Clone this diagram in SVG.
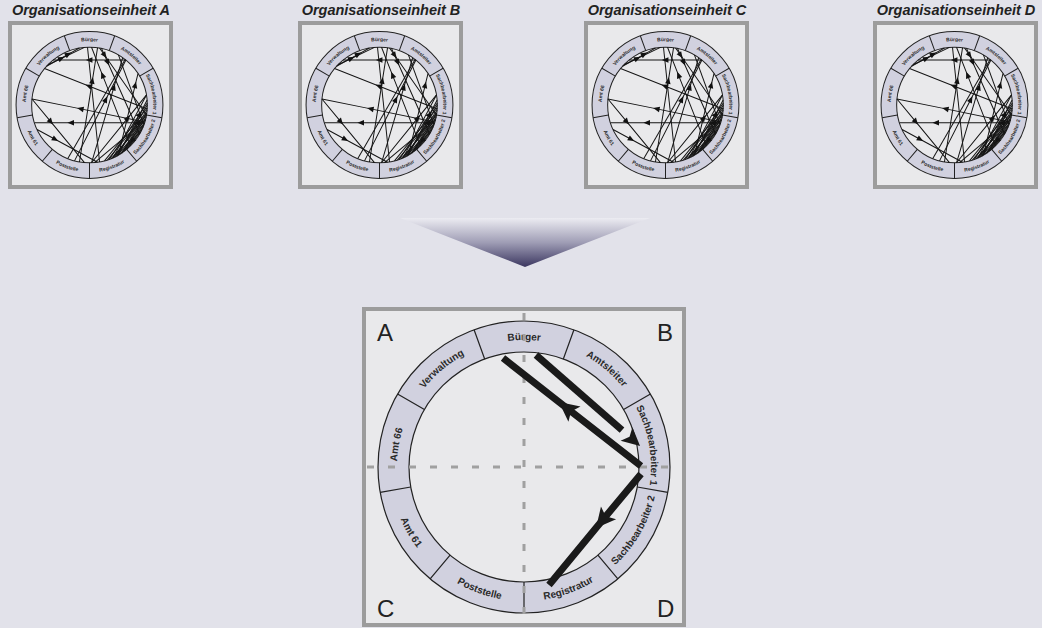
<svg xmlns="http://www.w3.org/2000/svg" xmlns:xlink="http://www.w3.org/1999/xlink" width="1042" height="628" viewBox="0 0 1042 628">
<style>
.lbl{font-family:"Liberation Sans",Arial,sans-serif;font-weight:bold;font-size:10px;fill:#2a2a2a}
.title{font-family:"Liberation Sans",Arial,sans-serif;font-weight:bold;font-style:italic;font-size:14.5px;fill:#222}
.corner{font-family:"Liberation Sans",Arial,sans-serif;font-size:24px;fill:#222}
.frame{fill:#e9e9eb;stroke:#9c9c9c;stroke-width:4}
.dash{stroke:#a0a0a0;stroke-width:3;stroke-dasharray:7 14;fill:none}
.big{stroke:#1a1a1a;stroke-width:7;fill:none}
.thin{stroke:#151515;stroke-width:2;fill:none}
</style>
<defs>
<linearGradient id="fun" x1="0" y1="0" x2="0" y2="1">
<stop offset="0" stop-color="#ececf2"/>
<stop offset="0.5" stop-color="#9f9db5"/>
<stop offset="1" stop-color="#3b3660"/>
</linearGradient>
<marker id="ahBig" markerUnits="userSpaceOnUse" markerWidth="24" markerHeight="24" viewBox="-20 -10 22 20" refX="0" refY="0" orient="auto">
<path d="M0,0 L-18,-9 L-14,0 L-18,9 Z" fill="#1a1a1a"/>
</marker>
<marker id="ahEnd" markerUnits="userSpaceOnUse" markerWidth="34" markerHeight="24" viewBox="-20 -10 34 20" refX="-12" refY="0" orient="auto">
<path d="M12,0 L-6,-9 L-2,0 L-6,9 Z" fill="#1a1a1a"/>
</marker>
<marker id="ahSm" markerUnits="userSpaceOnUse" markerWidth="16" markerHeight="14" viewBox="-14 -7 16 14" refX="0" refY="0" orient="auto">
<path d="M0,0 L-13,-5.5 L-13,5.5 Z" fill="#111"/>
</marker>
<path id="arcCW" d="M-119.34,43.44 A127,127 0 0 1 119.34,-43.44 A127,127 0 0 1 -119.34,43.44" fill="none"/>
<path id="arcCCW" d="M-134,0 A134,134 0 0 0 134,0" fill="none"/>
<g id="ringShape">
<circle r="146" fill="#d1d1df" stroke="#222"/>
<circle r="115" fill="#e9e9eb" stroke="#222"/>
<path stroke="#222" fill="none" d="M-39.33,-108.06L-49.93,-137.19M39.33,-108.06L49.93,-137.19M99.59,-57.5L126.44,-73M113.25,19.97L143.78,25.35M73.92,88.10L93.85,111.84M0,115L0,146M-73.92,88.10L-93.85,111.84M-113.25,19.97L-143.78,25.35M-99.59,-57.5L-126.44,-73"/>
</g>
<g id="thumbLines" class="thin">
<polyline points="72.4,-89.4 -7.2,-89.4 -72.4,-89.4" marker-mid="url(#ahSm)"/>
<polyline points="-85.5,-77 -36.4,-104.2 -20,-113.3" marker-mid="url(#ahSm)"/>
<polyline points="-82.7,-79.9 -50,-95.5 -10,-114.6" marker-mid="url(#ahSm)"/>
<polyline points="114.7,8 -7.8,-40.2 -89.4,-72.4" marker-mid="url(#ahSm)"/>
<polyline points="110,33.6 -24.6,6.2 -114.4,-12" marker-mid="url(#ahSm)"/>
<polyline points="-114.4,-12 -72.6,38.6 -10,114.6" marker-mid="url(#ahSm)"/>
<polyline points="109.4,35.5 -43.8,35.5 -109.4,35.5" marker-mid="url(#ahSm)"/>
<polyline points="-104.2,48.6 -62.1,71.5 16,113.9" marker-mid="url(#ahSm)"/>
<polyline points="-20,113.3 6.7,-55 16,-113.9" marker-mid="url(#ahSm)"/>
<line x1="-4" y1="-114.9" x2="20" y2="113.3"/>
<polyline points="81.3,81.3 23.3,-65.9 4,-114.9" marker-mid="url(#ahSm)"/>
<polyline points="-29.8,111.1 35.6,-17.2 72.4,-89.4" marker-mid="url(#ahSm)"/>
<polyline points="4,114.9 50.5,-41.9 66,-94.2" marker-mid="url(#ahSm)"/>
<polyline points="57.5,99.6 92.5,-46.4 96.4,-62.6" marker-mid="url(#ahSm)"/>
<polyline points="20,-113.3 34,-93.3 113.3,20" marker-mid="url(#ahSm)"/>
<polyline points="23.9,-112.5 39,-78.5 99.6,57.5" marker-mid="url(#ahSm)"/>
<line x1="57.5" y1="-99.6" x2="108.1" y2="39.3"/>
<line x1="70.8" y1="-90.6" x2="-43.1" y2="106.6"/>
<line x1="57.5" y1="99.6" x2="114.6" y2="-10"/>
<line x1="54" y1="101.5" x2="115" y2="0"/>
<polyline points="50.4,103.4 101.8,28.7 114.6,10" marker-mid="url(#ahSm)"/>
<line x1="46.8" y1="105.1" x2="113.3" y2="20"/>
<line x1="43.1" y1="106.6" x2="111.1" y2="29.8"/>
<line x1="60.9" y1="97.5" x2="108.1" y2="39.3"/>
<polyline points="104.2,48.6 80.3,76.6 64.3,95.3" marker-mid="url(#ahSm)"/>
<line x1="67.6" y1="93" x2="112.5" y2="23.9"/>
<polyline points="39.3,108.1 103.6,12.8 114.9,-4" marker-mid="url(#ahSm)"/>
<line x1="35.5" y1="109.4" x2="113.9" y2="16"/>
<line x1="73.9" y1="88.1" x2="101.5" y2="54"/>
<line x1="70.8" y1="90.6" x2="106.6" y2="43.1"/>
<line x1="29.8" y1="111.1" x2="114.8" y2="6"/>
<line x1="46.8" y1="105.1" x2="113.3" y2="-20"/>
<line x1="54" y1="101.5" x2="109.4" y2="35.5"/>
<line x1="64.3" y1="95.3" x2="113.9" y2="16"/>
<polyline points="4,114.9 80.5,20.5 113.3,-20" marker-mid="url(#ahSm)"/>
<line x1="10" y1="114.6" x2="111.1" y2="29.8"/>
</g>
</defs>
<rect width="1042" height="628" fill="#e2e2ea"/>

<g id="thumbA">
<text class="title" x="91" y="15" text-anchor="middle">Organisationseinheit A</text>
<rect class="frame" x="10" y="23" width="161" height="164"/>
<g transform="translate(89.5,105) scale(0.503)">
<use href="#ringShape" stroke-width="2"/>
<text class="lbl" text-anchor="middle"><textPath href="#arcCW" startOffset="66.5">Amt 66</textPath></text>
<text class="lbl" text-anchor="middle"><textPath href="#arcCW" startOffset="155.16">Verwaltung</textPath></text>
<text class="lbl" text-anchor="middle"><textPath href="#arcCW" startOffset="243.82">Bürger</textPath></text>
<text class="lbl" text-anchor="middle"><textPath href="#arcCW" startOffset="332.48">Amtsleiter</textPath></text>
<text class="lbl" text-anchor="middle"><textPath href="#arcCW" startOffset="421.14">Sachbearbeiter 1</textPath></text>
<text class="lbl" text-anchor="middle"><textPath href="#arcCCW" startOffset="70.16">Amt 61</textPath></text>
<text class="lbl" text-anchor="middle"><textPath href="#arcCCW" startOffset="163.71">Poststelle</textPath></text>
<text class="lbl" text-anchor="middle"><textPath href="#arcCCW" startOffset="257.26">Registratur</textPath></text>
<text class="lbl" text-anchor="middle"><textPath href="#arcCCW" startOffset="350.81">Sachbearbeiter 2</textPath></text>
<use href="#thumbLines"/>
</g>
</g>

<g id="thumbB" transform="translate(290,0)">
<text class="title" x="91" y="15" text-anchor="middle">Organisationseinheit B</text>
<rect class="frame" x="10" y="23" width="161" height="164"/>
<g transform="translate(89.5,105) scale(0.503)">
<use href="#ringShape" stroke-width="2"/>
<text class="lbl" text-anchor="middle"><textPath href="#arcCW" startOffset="66.5">Amt 66</textPath></text>
<text class="lbl" text-anchor="middle"><textPath href="#arcCW" startOffset="155.16">Verwaltung</textPath></text>
<text class="lbl" text-anchor="middle"><textPath href="#arcCW" startOffset="243.82">Bürger</textPath></text>
<text class="lbl" text-anchor="middle"><textPath href="#arcCW" startOffset="332.48">Amtsleiter</textPath></text>
<text class="lbl" text-anchor="middle"><textPath href="#arcCW" startOffset="421.14">Sachbearbeiter 1</textPath></text>
<text class="lbl" text-anchor="middle"><textPath href="#arcCCW" startOffset="70.16">Amt 61</textPath></text>
<text class="lbl" text-anchor="middle"><textPath href="#arcCCW" startOffset="163.71">Poststelle</textPath></text>
<text class="lbl" text-anchor="middle"><textPath href="#arcCCW" startOffset="257.26">Registratur</textPath></text>
<text class="lbl" text-anchor="middle"><textPath href="#arcCCW" startOffset="350.81">Sachbearbeiter 2</textPath></text>
<use href="#thumbLines"/>
</g>
</g>

<g id="thumbC" transform="translate(576,0)">
<text class="title" x="91" y="15" text-anchor="middle">Organisationseinheit C</text>
<rect class="frame" x="10" y="23" width="161" height="164"/>
<g transform="translate(89.5,105) scale(0.503)">
<use href="#ringShape" stroke-width="2"/>
<text class="lbl" text-anchor="middle"><textPath href="#arcCW" startOffset="66.5">Amt 66</textPath></text>
<text class="lbl" text-anchor="middle"><textPath href="#arcCW" startOffset="155.16">Verwaltung</textPath></text>
<text class="lbl" text-anchor="middle"><textPath href="#arcCW" startOffset="243.82">Bürger</textPath></text>
<text class="lbl" text-anchor="middle"><textPath href="#arcCW" startOffset="332.48">Amtsleiter</textPath></text>
<text class="lbl" text-anchor="middle"><textPath href="#arcCW" startOffset="421.14">Sachbearbeiter 1</textPath></text>
<text class="lbl" text-anchor="middle"><textPath href="#arcCCW" startOffset="70.16">Amt 61</textPath></text>
<text class="lbl" text-anchor="middle"><textPath href="#arcCCW" startOffset="163.71">Poststelle</textPath></text>
<text class="lbl" text-anchor="middle"><textPath href="#arcCCW" startOffset="257.26">Registratur</textPath></text>
<text class="lbl" text-anchor="middle"><textPath href="#arcCCW" startOffset="350.81">Sachbearbeiter 2</textPath></text>
<use href="#thumbLines"/>
</g>
</g>

<g id="thumbD" transform="translate(865,0)">
<text class="title" x="91" y="15" text-anchor="middle">Organisationseinheit D</text>
<rect class="frame" x="10" y="23" width="161" height="164"/>
<g transform="translate(89.5,105) scale(0.503)">
<use href="#ringShape" stroke-width="2"/>
<text class="lbl" text-anchor="middle"><textPath href="#arcCW" startOffset="66.5">Amt 66</textPath></text>
<text class="lbl" text-anchor="middle"><textPath href="#arcCW" startOffset="155.16">Verwaltung</textPath></text>
<text class="lbl" text-anchor="middle"><textPath href="#arcCW" startOffset="243.82">Bürger</textPath></text>
<text class="lbl" text-anchor="middle"><textPath href="#arcCW" startOffset="332.48">Amtsleiter</textPath></text>
<text class="lbl" text-anchor="middle"><textPath href="#arcCW" startOffset="421.14">Sachbearbeiter 1</textPath></text>
<text class="lbl" text-anchor="middle"><textPath href="#arcCCW" startOffset="70.16">Amt 61</textPath></text>
<text class="lbl" text-anchor="middle"><textPath href="#arcCCW" startOffset="163.71">Poststelle</textPath></text>
<text class="lbl" text-anchor="middle"><textPath href="#arcCCW" startOffset="257.26">Registratur</textPath></text>
<text class="lbl" text-anchor="middle"><textPath href="#arcCCW" startOffset="350.81">Sachbearbeiter 2</textPath></text>
<use href="#thumbLines"/>
</g>
</g>

<g id="funnel">
<polygon points="400,218 650,218 525,267" fill="url(#fun)"/>
</g>

<g id="main">
<rect class="frame" x="364" y="309" width="320" height="316"/>
<text class="corner" x="377" y="341">A</text>
<text class="corner" x="657" y="341">B</text>
<text class="corner" x="377" y="617">C</text>
<text class="corner" x="657" y="617">D</text>
<g transform="translate(524,467)">
<use href="#ringShape" stroke-width="1.2"/>
<text class="lbl" text-anchor="middle"><textPath href="#arcCW" startOffset="66.5">Amt 66</textPath></text>
<text class="lbl" text-anchor="middle"><textPath href="#arcCW" startOffset="155.16">Verwaltung</textPath></text>
<text class="lbl" text-anchor="middle"><textPath href="#arcCW" startOffset="243.82">Bürger</textPath></text>
<text class="lbl" text-anchor="middle"><textPath href="#arcCW" startOffset="332.48">Amtsleiter</textPath></text>
<text class="lbl" text-anchor="middle"><textPath href="#arcCW" startOffset="421.14">Sachbearbeiter 1</textPath></text>
<text class="lbl" text-anchor="middle"><textPath href="#arcCCW" startOffset="70.16">Amt 61</textPath></text>
<text class="lbl" text-anchor="middle"><textPath href="#arcCCW" startOffset="163.71">Poststelle</textPath></text>
<text class="lbl" text-anchor="middle"><textPath href="#arcCCW" startOffset="257.26">Registratur</textPath></text>
<text class="lbl" text-anchor="middle"><textPath href="#arcCCW" startOffset="350.81">Sachbearbeiter 2</textPath></text>
</g>
<line class="dash" x1="367" y1="467" x2="682" y2="467"/>
<line class="dash" x1="524" y1="313" x2="524" y2="623"/>
</g>

<g id="connectors">
<line class="big" x1="536" y1="355" x2="622" y2="430.1" marker-end="url(#ahEnd)"/>
<polyline class="big" points="641,466 559,402 503,358" marker-mid="url(#ahBig)"/>
<polyline class="big" points="641,474 596,528 549,585" marker-mid="url(#ahBig)"/>
</g>
</svg>
